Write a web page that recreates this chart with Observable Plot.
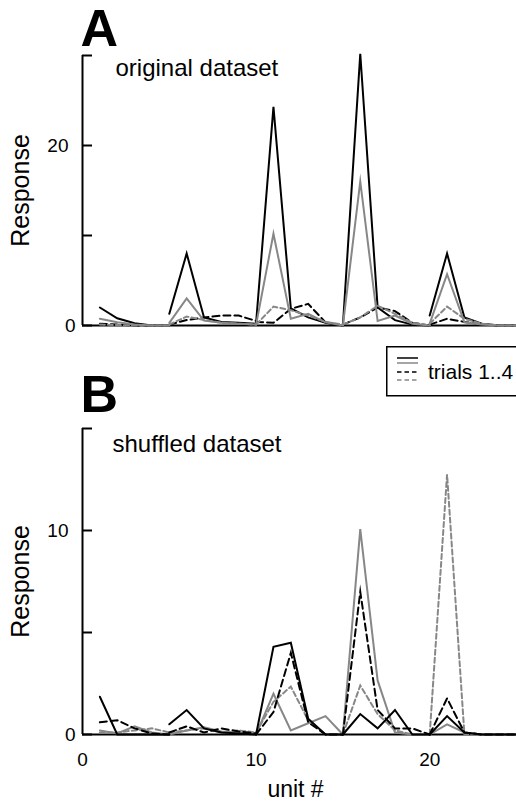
<!DOCTYPE html>
<html><head><meta charset="utf-8">
<script src="https://cdn.jsdelivr.net/npm/d3@7"></script>
<script src="https://cdn.jsdelivr.net/npm/@observablehq/plot@0.6"></script>
<style>
html,body{margin:0;padding:0;background:#fff;}
#fig{position:relative;width:516px;height:802px;overflow:hidden;font-family:"Liberation Sans",Arial,Helvetica,sans-serif;}
#fig > svg{position:absolute;left:0;}
</style></head><body><div id="fig"></div>
<script>
// ---- data ----
const trialNames = ["trial 1", "trial 2", "trial 3", "trial 4"];
const blockUnits = [[1,2,3,4,5],[5,6,7,8,9,10],[10,11,12,13,14,15],[15,16,17,18,19,20],[20,21,22,23,24,25]];

const originalTrial1 = [[2.0,0.8,0.25,0,0],[1.3,8.0,0.9,0.4,0.3,0.2],[0.3,24.3,1.9,0.9,0.3,0],[0,30.2,2.0,0.6,0.1,0],[1.1,8.0,0.9,0.2,0,0]];
const originalTrial2 = [[0.75,0.35,0.1,0,0],[0.3,3.0,0.55,0.3,0.2,0.1],[0.1,10.2,0.75,1.3,0.35,0],[0,16.0,0.5,1.1,0.2,0],[0.2,5.7,0.35,0.1,0,0]];
const originalTrial3 = [[0.2,0.1,0,0,0],[0.1,0.6,0.9,1.1,1.1,0.5],[0.4,0.3,1.85,2.4,0.35,0],[0.1,0.9,2.0,1.6,0.3,0],[0.1,0.75,0.4,0.1,0,0]];
const originalTrial4 = [[0.1,0.05,0,0,0],[0.1,1.0,0.6,0.3,0.2,0.1],[0.1,2.1,1.7,1.1,0.4,0.1],[0.1,0.9,2.2,1.3,0.3,0],[0.2,2.1,0.75,0.2,0,0]];

const shuffledTrial1 = [[1.85,0,0,0,0],[0.5,1.2,0.3,0.1,0.05,0],[0,4.3,4.5,0.77,0,0],[0,1.0,0.3,1.2,0,0],[0,0.9,0.1,0,0,0]];
const shuffledTrial2 = [[0.2,0.05,0.4,0.1,0],[0,0.2,0.35,0.15,0.1,0],[0,2.0,0.2,0.55,0.9,0],[0,10.07,2.65,0.1,0,0],[0,0.5,0.1,0,0,0]];
const shuffledTrial3 = [[0.6,0.7,0.3,0.05,0],[0.1,0.4,0.1,0.3,0.15,0.05],[0,1.1,4.0,0.6,0,0],[0,7.0,1.2,0.3,0.3,0],[0,1.77,0.1,0,0,0]];
const shuffledTrial4 = [[0.1,0.1,0.2,0.3,0.1],[0.1,0.2,0.3,0.1,0.2,0.1],[0.1,1.6,2.35,0.7,0,0],[0,2.4,1.0,0.2,0,0],[0,12.75,0,0,0,0]];

const yTicksA = [0, 10, 20, 30];
const yLabelsA = [20];
const yTicksB = [0, 5, 10, 15];
const yLabelsB = [10];
const yZeroLabel = [0];
const xLabels = [0, 10, 20];
const panelTitles = ["original dataset", "shuffled dataset"];
const panelLetters = ["A", "B"];
const legendText = "trials 1..4";

// ---- build ----
function rows(trialValues, trial) {
  const out = [];
  trialValues.forEach((vals, b) => vals.forEach((v, i) => out.push({trial, block: b, unit: blockUnits[b][i], value: v})));
  return out;
}
const styleFor = {
  "trial 1": {stroke: "#000"},
  "trial 2": {stroke: "#878787"},
  "trial 3": {stroke: "#000", strokeDasharray: "7,4"},
  "trial 4": {stroke: "#878787", strokeDasharray: "5,3"}
};
function lineMarks(seriesList, order) {
  return order.map(k => Plot.line(rows(seriesList[k], trialNames[k]), {
    x: "unit", y: "value", z: "block", strokeWidth: 2, strokeLinejoin: "miter", strokeMiterlimit: 10, ...styleFor[trialNames[k]]
  }));
}
const FONT = "'Liberation Sans', Arial, Helvetica, sans-serif";

function panel({series, order, yMax, yTicks, yLabels, height, marginTop, marginBottom, letter, title, letterDy, titleDx, titleDy, showX}) {
  const marks = [
    Plot.ruleX([0], {strokeWidth: 2}),
    Plot.ruleY([0], {strokeWidth: 2}),
    Plot.axisY({ticks: yTicks, tickSize: -10, tickFormat: () => "", label: null, strokeWidth: 2}),
    Plot.axisY({ticks: yLabels, tickSize: 0, tickPadding: 14, label: null, fontSize: 19}),
    Plot.axisY({ticks: yZeroLabel, tickSize: 0, tickPadding: 7, label: null, fontSize: 19}),
    ...lineMarks(series, order),
    Plot.text([letter], {frameAnchor: "top-left", text: d => d, dx: -2, dy: letterDy, fontSize: 52, fontWeight: "bold", textAnchor: "start", lineAnchor: "bottom"}),
    Plot.text([title], {frameAnchor: "top-left", text: d => d, dx: titleDx, dy: titleDy, fontSize: 24, textAnchor: "start", lineAnchor: "bottom"}),
    Plot.text(["Response"], {frameAnchor: "left", text: d => d, dx: -62, rotate: -90, fontSize: 25, textAnchor: "middle", lineAnchor: "middle"})
  ];
  if (showX) {
    marks.push(Plot.axisX({ticks: xLabels, tickSize: 0, tickPadding: 18, label: null, fontSize: 19}));
    marks.push(Plot.text(["unit #"], {frameAnchor: "bottom", text: d => d, dx: -4, dy: 62, fontSize: 23, textAnchor: "middle", lineAnchor: "bottom"}));
  }
  return Plot.plot({
    width: 516, height, marginLeft: 82, marginRight: 0, marginTop, marginBottom,
    style: {fontFamily: FONT, color: "#000", background: "transparent", overflow: "visible"},
    x: {domain: [0, 25], axis: showX ? undefined : null},
    y: {domain: [0, yMax]},
    marks
  });
}

const fig = document.getElementById("fig");
const pA = panel({
  series: [originalTrial1, originalTrial2, originalTrial3, originalTrial4], order: [0, 2, 3, 1],
  yMax: 30, yTicks: yTicksA, yLabels: yLabelsA, height: 340, marginTop: 55, marginBottom: 15,
  letter: panelLetters[0], title: panelTitles[0], letterDy: -10, titleDx: 33, titleDy: 20, showX: false
});
pA.style.top = "0px";
fig.appendChild(pA);

const pB = panel({
  series: [shuffledTrial1, shuffledTrial2, shuffledTrial3, shuffledTrial4], order: [1, 3, 2, 0],
  yMax: 15, yTicks: yTicksB, yLabels: yLabelsB, height: 462, marginTop: 88, marginBottom: 68,
  letter: panelLetters[1], title: panelTitles[1], letterDy: -17, titleDx: 30, titleDy: 23, showX: true
});
pB.style.top = "340px";
fig.appendChild(pB);

// legend box
const lg = d3.create("svg").attr("width", 140).attr("height", 52)
  .style("left", "386px").style("top", "346px");
lg.append("rect").attr("x", 0.75).attr("y", 0.75).attr("width", 200).attr("height", 49)
  .attr("fill", "white").attr("stroke", "#000").attr("stroke-width", 1.5);
const sampleY = [12, 17, 26, 34];
[0, 1, 2, 3].forEach((k, i) => {
  const s = styleFor[trialNames[k]];
  lg.append("line").attr("x1", 11).attr("x2", 32).attr("y1", sampleY[i]).attr("y2", sampleY[i])
    .attr("stroke", s.stroke).attr("stroke-width", 1.5)
    .attr("stroke-dasharray", s.strokeDasharray ? "4.5,3" : null);
});
lg.append("text").attr("x", 42).attr("y", 33).attr("font-family", FONT).attr("font-size", 21).text(legendText);
fig.appendChild(lg.node());
</script></body></html>
